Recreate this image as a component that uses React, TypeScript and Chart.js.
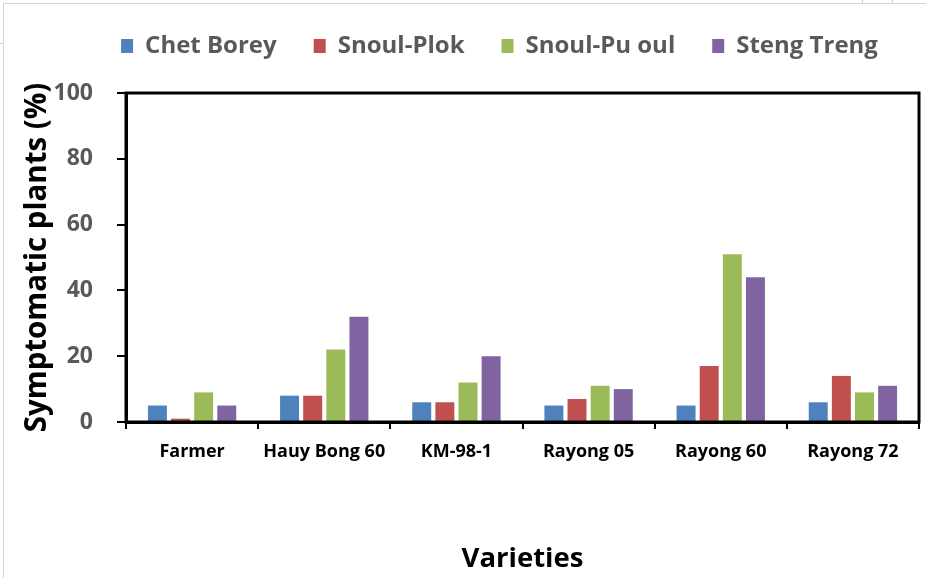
import React, { useEffect, useRef } from "react";
import { Chart, registerables } from "chart.js";

Chart.register(...registerables);

const categories = ["Farmer", "Hauy Bong 60", "KM-98-1", "Rayong 05", "Rayong 60", "Rayong 72"];
const seriesNames = ["Chet Borey", "Snoul-Plok", "Snoul-Pu oul", "Steng Treng"];
const chetBorey = [5, 8, 6, 5, 5, 6];
const snoulPlok = [1, 8, 6, 7, 17, 14];
const snoulPuOul = [9, 22, 12, 11, 51, 9];
const stengTreng = [5, 32, 20, 10, 44, 11];
const seriesColors = ["#4F81BD", "#C0504D", "#9BBB59", "#8064A2"];
const yMin = 0;
const yMax = 100;
const yStep = 20;
const yTitle = "Symptomatic plants (%)";
const xTitle = "Varieties";

const FONT = "'Open Sans', 'DejaVu Sans', sans-serif";

const framePlugin = {
  id: "frame",
  afterLayout(chart: any) {
    const lg = chart.legend;
    if (lg) {
      const dx = 40;
      const dy = -25;
      lg.left += dx;
      lg.right += dx;
      lg.top += dy;
      lg.bottom += dy;
    }
  },
  afterDatasetsDraw(chart: any) {
    const { ctx, chartArea } = chart;
    ctx.save();
    ctx.strokeStyle = "#000";
    ctx.lineWidth = 3;
    ctx.strokeRect(chartArea.left, chartArea.top, chartArea.right - chartArea.left, chartArea.bottom - chartArea.top);
    ctx.restore();
  },
};

export default function App() {
  const ref = useRef<HTMLCanvasElement | null>(null);

  useEffect(() => {
    if (!ref.current) return;
    const allSeries = [chetBorey, snoulPlok, snoulPuOul, stengTreng];
    const chart = new Chart(ref.current, {
      type: "bar",
      data: {
        labels: categories,
        datasets: allSeries.map((d, i) => ({
          label: seriesNames[i],
          data: d,
          backgroundColor: seriesColors[i],
          borderWidth: 0,
          categoryPercentage: 0.7,
          barPercentage: 0.82,
        })),
      },
      options: {
        responsive: false,
        animation: false,
        layout: { padding: { left: 0, right: 7, top: 22, bottom: 0 } },
        plugins: {
          tooltip: { enabled: false },
          legend: {
            position: "top",
            labels: {
              boxWidth: 12,
              boxHeight: 14,
              padding: 37,
              color: "#595959",
              font: { family: FONT, size: 24, weight: "bold" },
            },
          },
        },
        scales: {
          x: {
            grid: {
              display: true,
              drawOnChartArea: false,
              drawTicks: true,
              tickLength: 7,
              color: "#000",
              lineWidth: 2,
              offset: true,
            },
            border: { display: true, color: "#000", width: 3 },
            ticks: {
              color: "#000",
              padding: 12,
              font: { family: FONT, size: 18, weight: "bold" },
              maxRotation: 0,
            },
            title: {
              display: true,
              text: xTitle,
              color: "#000",
              padding: { top: 0, bottom: 2 },
              font: { family: FONT, size: 27.5, weight: "bold" },
            },
            afterFit(scale: any) {
              scale.height = 156;
            },
          },
          y: {
            min: yMin,
            max: yMax,
            grid: {
              display: true,
              drawOnChartArea: false,
              drawTicks: true,
              tickLength: 9,
              color: "#000",
              lineWidth: 2,
            },
            border: { display: true, color: "#000", width: 3 },
            ticks: {
              stepSize: yStep,
              color: "#595959",
              padding: 24,
              font: { family: FONT, size: 23, weight: "bold" },
            },
            title: {
              display: true,
              text: yTitle,
              color: "#000",
              padding: { top: 20, bottom: 0 },
              font: { family: FONT, size: 29.5, weight: "bold" },
            },
            afterFit(scale: any) {
              scale.width = 126;
            },
          },
        },
      },
      plugins: [framePlugin],
    });
    return () => chart.destroy();
  }, []);

  return (
    <div style={{ position: "fixed", left: 0, top: 0, width: 926, height: 578, background: "#fff" }}>
      <canvas ref={ref} width={926} height={578} style={{ display: "block" }} />
      <div style={{ position: "absolute", left: 3, top: 3, right: 0, bottom: 0, borderLeft: "1px solid #d4d4d4", borderTop: "1px solid #d4d4d4", pointerEvents: "none" }} />
      <div style={{ position: "absolute", left: 0, top: 43, width: 3, height: 0, borderTop: "1px solid #d4d4d4" }} />
      <div style={{ position: "absolute", left: 862, top: 0, width: 0, height: 3, borderLeft: "1px solid #d4d4d4" }} />
      <div style={{ position: "absolute", left: 892, top: 0, width: 0, height: 3, borderLeft: "1px solid #d4d4d4" }} />
    </div>
  );
}
